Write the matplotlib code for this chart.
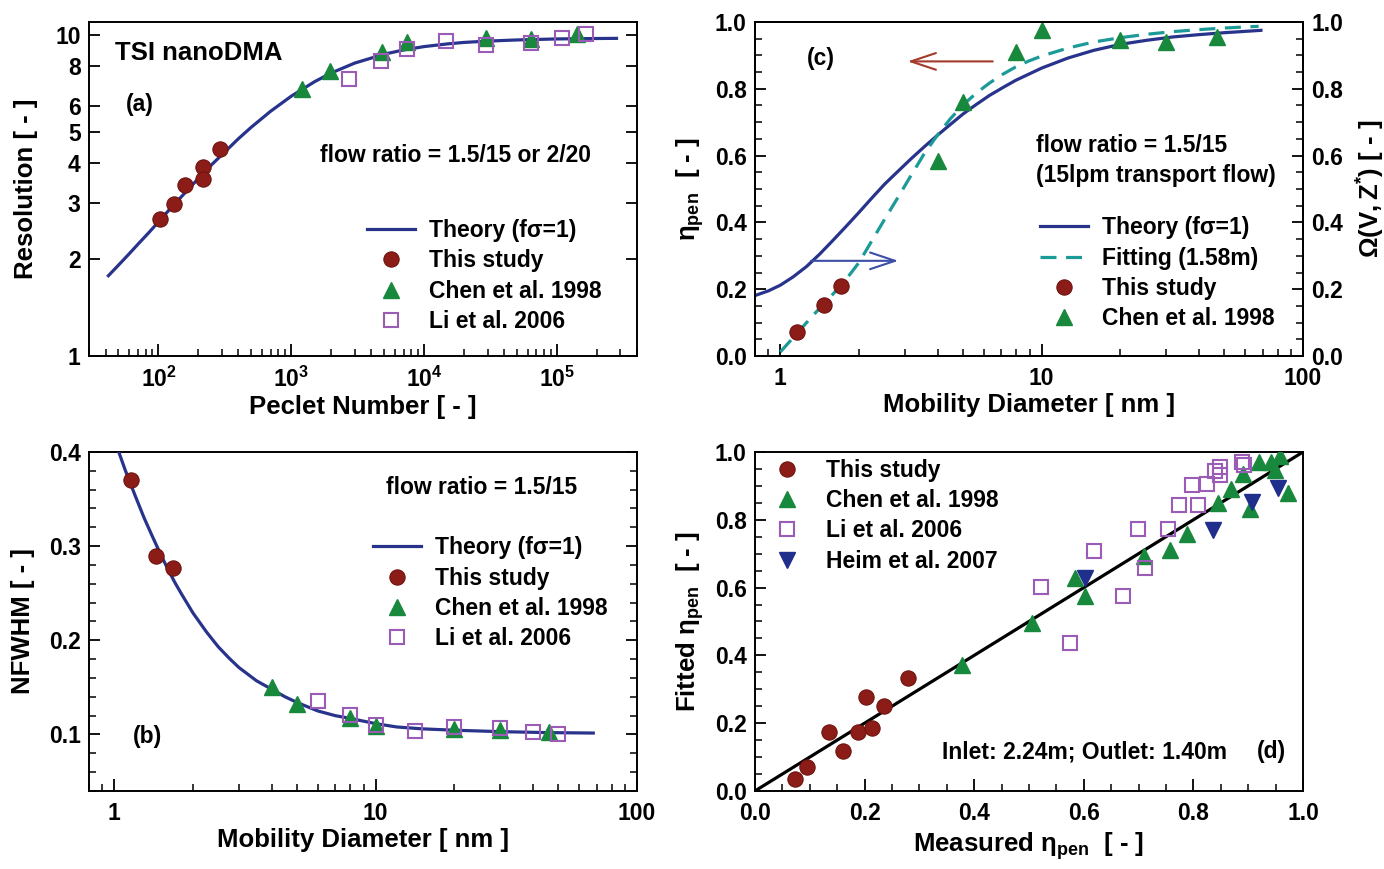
import numpy as np
import matplotlib
matplotlib.use("Agg")
import matplotlib.pyplot as plt
from matplotlib.ticker import FixedLocator, FixedFormatter, NullLocator, MultipleLocator, LogLocator, NullFormatter, FormatStrFormatter

# ---------------- data ----------------
# (a) resolution vs Peclet number
a_theory_pe = [42, 50, 60, 70, 85, 100, 120, 150, 200, 250, 300, 400, 500, 700, 1000, 1500, 2000, 3000,
               5000, 7000, 1e4, 1.5e4, 2e4, 3e4, 5e4, 1e5, 2e5, 2.8e5]
a_theory_r = [1.78, 1.92, 2.08, 2.23, 2.43, 2.62, 2.85, 3.15, 3.58, 3.94, 4.24, 4.76, 5.17, 5.80, 6.46,
              7.17, 7.63, 8.19, 8.73, 9.00, 9.22, 9.40, 9.50, 9.59, 9.67, 9.74, 9.77, 9.78]
a_this_pe = [102, 130, 158, 215, 215, 291]
a_this_r = [2.68, 2.97, 3.42, 3.89, 3.56, 4.41]
a_chen_pe = [1210, 1945, 4820, 7460, 29000, 63500, 1.42e5]
a_chen_r = [6.79, 7.72, 8.89, 9.55, 9.84, 9.77, 10.1]
a_li_pe = [2700, 4740, 7460, 14500, 29000, 63500, 1.08e5, 1.64e5]
a_li_r = [7.33, 8.29, 9.04, 9.61, 9.32, 9.48, 9.81, 10.07]

# (b) NFWHM vs mobility diameter
b_theory_d = [1.04, 1.1, 1.2, 1.3, 1.4, 1.5, 1.6, 1.7, 1.8, 2.0, 2.25, 2.5, 2.75, 3.0, 3.5, 4.0, 4.5,
              5.0, 6.0, 7.0, 8.0, 10, 12, 15, 20, 30, 45, 68]
b_theory_n = [0.400, 0.381, 0.354, 0.330, 0.310, 0.292, 0.276, 0.262, 0.250, 0.229, 0.209, 0.193,
              0.181, 0.171, 0.157, 0.148, 0.140, 0.134, 0.125, 0.120, 0.117, 0.1115, 0.108, 0.106,
              0.1045, 0.103, 0.102, 0.1015]
b_this_d = [1.16, 1.45, 1.67]
b_this_n = [0.370, 0.290, 0.277]
b_chen_d = [4.0, 5.0, 8.0, 10, 20, 30, 46]
b_chen_n = [0.150, 0.132, 0.118, 0.109, 0.106, 0.105, 0.1025]
b_li_d = [6.0, 8.0, 10, 14.1, 20, 30, 40, 50]
b_li_n = [0.136, 0.121, 0.1105, 0.1035, 0.1077, 0.1067, 0.1025, 0.100]

# (c) penetration vs mobility diameter
c_theory_d = [0.8, 0.9, 1.0, 1.12, 1.26, 1.41, 1.58, 1.78, 2.0, 2.24, 2.51, 2.82, 3.16, 3.55, 3.98, 4.47,
              5.01, 5.62, 6.31, 7.08, 7.94, 10, 12.6, 15.8, 20, 25.1, 31.6, 39.8, 50.1, 63.1, 69]
c_theory_e = [0.181, 0.195, 0.212, 0.237, 0.268, 0.304, 0.344, 0.387, 0.43, 0.473, 0.515, 0.553, 0.59,
              0.626, 0.66, 0.693, 0.725, 0.753, 0.78, 0.803, 0.825, 0.862, 0.892, 0.915, 0.933, 0.945,
              0.955, 0.962, 0.968, 0.973, 0.975]
c_fit_d = [1.0, 1.12, 1.26, 1.41, 1.58, 1.78, 2.0, 2.24, 2.51, 2.82, 3.16, 3.55, 3.98, 4.47, 5.01,
           5.62, 6.31, 7.08, 7.94, 8.91, 10, 12.6, 15.8, 20, 25.1, 31.6, 39.8, 50.1, 67.6]
c_fit_e = [0.012, 0.055, 0.10, 0.142, 0.183, 0.228, 0.28, 0.345, 0.41, 0.475, 0.54, 0.605, 0.66,
           0.71, 0.752, 0.787, 0.817, 0.843, 0.865, 0.883, 0.898, 0.922, 0.94, 0.953, 0.963,
           0.971, 0.977, 0.982, 0.987]
c_this_d = [1.16, 1.47, 1.70]
c_this_e = [0.071, 0.154, 0.209]
c_chen_d = [4.0, 5.0, 8.0, 10, 20, 30, 47]
c_chen_e = [0.583, 0.76, 0.909, 0.975, 0.946, 0.941, 0.956]

# (d) fitted vs measured penetration
d_this_x = [0.073, 0.095, 0.135, 0.160, 0.188, 0.203, 0.213, 0.236, 0.280]
d_this_y = [0.036, 0.070, 0.173, 0.117, 0.173, 0.276, 0.185, 0.251, 0.333]
d_chen_x = [0.377, 0.506, 0.584, 0.602, 0.709, 0.758, 0.789, 0.844, 0.868, 0.890, 0.903, 0.920,
            0.941, 0.948, 0.958, 0.973]
d_chen_y = [0.372, 0.494, 0.628, 0.574, 0.692, 0.711, 0.757, 0.848, 0.892, 0.936, 0.832, 0.969,
            0.969, 0.946, 0.988, 0.878]
d_li_x = [0.521, 0.574, 0.618, 0.671, 0.699, 0.711, 0.754, 0.774, 0.797, 0.808, 0.825, 0.840,
          0.848, 0.848, 0.888, 0.892]
d_li_y = [0.602, 0.437, 0.708, 0.574, 0.773, 0.659, 0.772, 0.845, 0.902, 0.845, 0.905, 0.943,
          0.956, 0.932, 0.969, 0.961]
d_heim_x = [0.602, 0.835, 0.907, 0.955]
d_heim_y = [0.628, 0.770, 0.853, 0.894]
d_line = [0.0, 1.0]

# ---------------- style ----------------
theory_c = "#28338c"
red_c = "#8c1c18"
green_c = "#18883c"
purple_c = "#9a5cb6"
heim_c = "#202e8c"
teal_c = "#1c9a98"

plt.rcParams.update({
    "font.family": ["Liberation Sans", "DejaVu Sans"],
    "font.weight": "bold",
    "axes.labelweight": "bold",
    "mathtext.fontset": "custom",
    "mathtext.rm": "Liberation Sans",
    "mathtext.it": "Liberation Sans:italic",
    "mathtext.bf": "Liberation Sans:bold",
    "xtick.direction": "in",
    "ytick.direction": "in",
    "xtick.labelsize": 16.5,
    "ytick.labelsize": 16.5,
    "axes.labelsize": 18.5,
    "axes.linewidth": 1.4,
    "xtick.major.size": 9,
    "ytick.major.size": 8,
    "xtick.minor.size": 5,
    "ytick.minor.size": 5,
    "xtick.major.width": 1.3,
    "ytick.major.width": 1.3,
    "xtick.minor.width": 1.1,
    "ytick.minor.width": 1.1,
    "xtick.major.pad": 8,
    "ytick.major.pad": 6,
})

ms_c = 11
ms_t = 11
ms_s = 10
fs_txt = 16.5

fig = plt.figure(figsize=(13.84, 8.69), dpi=100)

def circ(ax, x, y, label=None):
    return ax.plot(x, y, "o", ms=ms_c, mfc=red_c, mec="#6e1410", mew=0.8, ls="none", label=label, zorder=4)[0]

def tri(ax, x, y, label=None):
    return ax.plot(x, y, "^", ms=ms_t, mfc=green_c, mec=green_c, ls="none", label=label, zorder=4)[0]

def sq(ax, x, y, label=None):
    return ax.plot(x, y, "s", ms=ms_s, mfc="none", mec=purple_c, mew=1.5, ls="none", label=label, zorder=5)[0]

leg_kw = dict(frameon=False, fontsize=fs_txt, borderpad=0, borderaxespad=0,
              handlelength=2.1, handletextpad=0.6, labelspacing=0.32)

# ---------------- (a) ----------------
ax = fig.add_axes([0.0643, 0.5903, 0.396, 0.3844])
h1, = ax.plot(a_theory_pe, a_theory_r, color=theory_c, lw=2.3, label="Theory (f\u03c3=1)", zorder=3)
h2 = circ(ax, a_this_pe, a_this_r, "This study")
h3 = tri(ax, a_chen_pe, a_chen_r, "Chen et al. 1998")
h4 = sq(ax, a_li_pe, a_li_r, "Li et al. 2006")
ax.set_xscale("log")
ax.set_yscale("log")
ax.set_xlim(30, 4e5)
ax.set_ylim(1, 11)
ax.yaxis.set_major_locator(FixedLocator([1, 2, 3, 4, 5, 6, 8, 10]))
ax.yaxis.set_major_formatter(FixedFormatter(["1", "2", "3", "4", "5", "6", "8", "10"]))
ax.yaxis.set_minor_locator(NullLocator())
ax.xaxis.set_major_locator(FixedLocator([1e2, 1e3, 1e4, 1e5]))
ax.xaxis.set_major_formatter(FixedFormatter([r"$\mathbf{10^{2}}$", r"$\mathbf{10^{3}}$",
                                             r"$\mathbf{10^{4}}$", r"$\mathbf{10^{5}}$"]))
ax.xaxis.set_minor_locator(LogLocator(base=10, subs=np.arange(2, 10)))
ax.xaxis.set_minor_formatter(NullFormatter())
ax.tick_params(axis="y", which="both", left=True, right=True)
ax.tick_params(axis="x", which="both", top=False)
ax.set_xlabel("Peclet Number [ - ]", labelpad=2)
ax.set_ylabel("Resolution [ - ]", labelpad=12)
ax.text(0.047, 0.907, "TSI nanoDMA", transform=ax.transAxes, fontsize=18.5, va="center")
ax.text(0.068, 0.754, "(a)", transform=ax.transAxes, fontsize=fs_txt, va="center")
ax.text(0.421, 0.599, "flow ratio = 1.5/15 or 2/20", transform=ax.transAxes, fontsize=fs_txt, va="center")
ax.legend(handles=[h1, h2, h3, h4], loc="upper left", bbox_to_anchor=(0.507, 0.41), **leg_kw)

# ---------------- (b) ----------------
ax = fig.add_axes([0.0643, 0.0898, 0.396, 0.3901])
h1, = ax.plot(b_theory_d, b_theory_n, color=theory_c, lw=2.3, label="Theory (f\u03c3=1)", zorder=3)
h2 = circ(ax, b_this_d, b_this_n, "This study")
h3 = tri(ax, b_chen_d, b_chen_n, "Chen et al. 1998")
h4 = sq(ax, b_li_d, b_li_n, "Li et al. 2006")
ax.set_xscale("log")
ax.set_xlim(0.8, 100)
ax.set_ylim(0.04, 0.4)
ax.xaxis.set_major_locator(FixedLocator([1, 10, 100]))
ax.xaxis.set_major_formatter(FixedFormatter(["1", "10", "100"]))
ax.xaxis.set_minor_locator(LogLocator(base=10, subs=np.arange(2, 10)))
ax.xaxis.set_minor_formatter(NullFormatter())
ax.yaxis.set_major_locator(FixedLocator([0.1, 0.2, 0.3, 0.4]))
ax.yaxis.set_major_formatter(FixedFormatter(["0.1", "0.2", "0.3", "0.4"]))
ax.yaxis.set_minor_locator(MultipleLocator(0.02))
ax.tick_params(axis="y", which="both", left=True, right=True)
ax.tick_params(axis="x", which="both", top=False)
ax.set_xlabel("Mobility Diameter [ nm ]", labelpad=2)
ax.set_ylabel("NFWHM [ - ]", labelpad=10)
ax.text(0.542, 0.894, "flow ratio = 1.5/15", transform=ax.transAxes, fontsize=fs_txt, va="center")
ax.text(0.08, 0.16, "(b)", transform=ax.transAxes, fontsize=fs_txt, va="center")
ax.legend(handles=[h1, h2, h3, h4], loc="upper left", bbox_to_anchor=(0.518, 0.751), **leg_kw)

# ---------------- (c) ----------------
ax = fig.add_axes([0.5455, 0.5903, 0.396, 0.3844])
h1, = ax.plot(c_theory_d, c_theory_e, color=theory_c, lw=2.3, label="Theory (f\u03c3=1)", zorder=3)
h2, = ax.plot(c_fit_d, c_fit_e, color=teal_c, lw=2.3, ls=(0, (5, 3)), label="Fitting (1.58m)", zorder=3)
h3 = circ(ax, c_this_d, c_this_e, "This study")
h4 = tri(ax, c_chen_d, c_chen_e, "Chen et al. 1998")
ax.set_xscale("log")
ax.set_xlim(0.8, 100)
ax.set_ylim(0, 1)
ax.xaxis.set_major_locator(FixedLocator([1, 10, 100]))
ax.xaxis.set_major_formatter(FixedFormatter(["1", "10", "100"]))
ax.xaxis.set_minor_locator(LogLocator(base=10, subs=np.arange(2, 10)))
ax.xaxis.set_minor_formatter(NullFormatter())
ax.yaxis.set_major_locator(MultipleLocator(0.2))
ax.yaxis.set_minor_locator(MultipleLocator(0.05))
ax.yaxis.set_major_formatter(FormatStrFormatter("%.1f"))
ax.tick_params(axis="y", which="both", left=True, right=False)
ax.tick_params(axis="x", which="both", top=False)
ax.set_xlabel("Mobility Diameter [ nm ]", labelpad=2)
ax.set_ylabel(r"$\mathrm{\eta_{pen}}$  [ - ]", labelpad=6)
ax2 = ax.twinx()
ax2.set_ylim(0, 1)
ax2.yaxis.set_major_locator(MultipleLocator(0.2))
ax2.yaxis.set_minor_locator(MultipleLocator(0.05))
ax2.yaxis.set_major_formatter(FormatStrFormatter("%.1f"))
ax2.tick_params(axis="y", which="both", direction="in")
ax2.set_ylabel(r"$\mathrm{\Omega(V,Z^{*})}$ [ - ]", labelpad=8)
ax.annotate("", xy=(3.07, 0.882), xytext=(6.5, 0.882),
            arrowprops=dict(arrowstyle="->,head_length=0.9,head_width=0.3", color="#a33a2a", lw=1.5,
                            mutation_scale=20, shrinkA=0, shrinkB=0))
ax.annotate("", xy=(2.83, 0.285), xytext=(1.31, 0.285),
            arrowprops=dict(arrowstyle="->,head_length=0.9,head_width=0.3", color="#3c4ea6", lw=1.5,
                            mutation_scale=20, shrinkA=0, shrinkB=0))
ax.text(0.095, 0.89, "(c)", transform=ax.transAxes, fontsize=fs_txt, va="center")
ax.text(0.513, 0.63, "flow ratio = 1.5/15", transform=ax.transAxes, fontsize=fs_txt, va="center")
ax.text(0.513, 0.54, "(15lpm transport flow)", transform=ax.transAxes, fontsize=fs_txt, va="center")
ax.legend(handles=[h1, h2, h3, h4], loc="upper left", bbox_to_anchor=(0.52, 0.418), **leg_kw)

# ---------------- (d) ----------------
ax = fig.add_axes([0.5455, 0.0898, 0.396, 0.3901])
ax.plot(d_line, d_line, color="black", lw=2.3, zorder=3)
h1 = circ(ax, d_this_x, d_this_y, "This study")
h2 = tri(ax, d_chen_x, d_chen_y, "Chen et al. 1998")
h3 = sq(ax, d_li_x, d_li_y, "Li et al. 2006")
h4, = ax.plot(d_heim_x, d_heim_y, "v", ms=ms_t, mfc=heim_c, mec=heim_c, ls="none",
              label="Heim et al. 2007", zorder=4)
ax.set_xlim(0, 1)
ax.set_ylim(0, 1)
ax.xaxis.set_major_locator(MultipleLocator(0.2))
ax.xaxis.set_minor_locator(MultipleLocator(0.05))
ax.yaxis.set_major_locator(MultipleLocator(0.2))
ax.yaxis.set_minor_locator(MultipleLocator(0.05))
ax.xaxis.set_major_formatter(FormatStrFormatter("%.1f"))
ax.yaxis.set_major_formatter(FormatStrFormatter("%.1f"))
ax.tick_params(axis="both", which="both", top=False, right=False)
ax.set_xlabel(r"Measured $\mathrm{\eta_{pen}}$  [ - ]", labelpad=4)
ax.set_ylabel(r"Fitted $\mathrm{\eta_{pen}}$  [ - ]", labelpad=6)
ax.text(0.341, 0.115, "Inlet: 2.24m; Outlet: 1.40m", transform=ax.transAxes, fontsize=fs_txt, va="center")
ax.text(0.915, 0.115, "(d)", transform=ax.transAxes, fontsize=fs_txt, va="center")
ax.legend(handles=[h1, h2, h3, h4], loc="upper left", bbox_to_anchor=(0.037, 0.98),
          frameon=False, fontsize=fs_txt, borderpad=0, borderaxespad=0,
          handlelength=1.0, handletextpad=1.2, labelspacing=0.32)

fig.savefig("out.png", dpi=100)
